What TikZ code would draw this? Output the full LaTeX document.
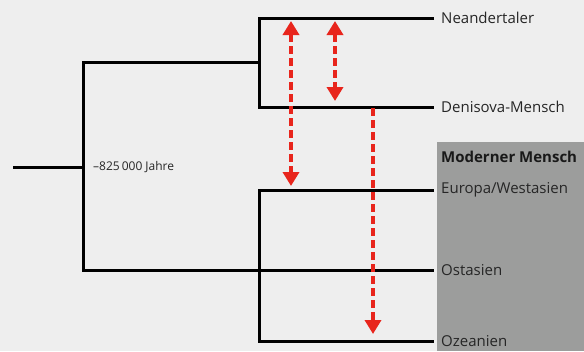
\documentclass[tikz,border=0pt]{standalone}
\usepackage{fontspec}
\setmainfont{Open Sans}
\usetikzlibrary{arrows.meta}
\definecolor{paper}{HTML}{EEEEEE}
\definecolor{modern}{HTML}{9C9D9C}
\definecolor{flow}{HTML}{E8251C}
\tikzset{
x=1pt, y=-1pt, % pixel units, y pointing down
>={Triangle[width=16pt,length=14pt]}, % arrow heads of the gene flow
branch/.style={line width=3pt}, % the tree lines
gene/.style={flow, line width=3.5pt, dash pattern=on 8pt off 4pt}, % gene flow
taxon/.style={anchor=west, inner xsep=7pt, text=black!85, font=\fontsize{15}{17}\selectfont},
}

\begin{document}
\begin{tikzpicture}
\fill[paper] (0,0) rectangle (584,351);
\fill[modern] (437,142) rectangle (584,351);
\useasboundingbox (0,0) rectangle (584,351);
% labels
\node[taxon] (nea) at (434,18) {Neandertaler};
\node[taxon] (den) at (434,107) {Denisova-Mensch};
\node[taxon, font=\fontsize{15}{17}\selectfont\bfseries, text=black!90] (mod) at (434,157) {Moderner Mensch};
\node[taxon] (eur) at (434,190) {Europa/Westasien};
\node[taxon] (ost) at (434,270) {Ostasien};
\node[taxon] (oze) at (434,341) {Ozeanien};
% branch points
\coordinate (start) at (13,167);
\coordinate (d0) at (83,167);
\coordinate (d1) at (259,62);
\coordinate (d2) at (259,265);
\node[anchor=west, inner sep=0pt, text=black!85, font=\fontsize{12}{14}\selectfont] (age) at (93,167) {–825\,000 Jahre};
\draw[branch] (nea.west) -| (d1) |- (den.west);
\draw[branch] (eur.west) -| (d2) |- (oze.west);
\draw[branch] (d1) -| (d0) |- (ost.west);
\draw[branch] (start) -- (d0);
% gene flow
\coordinate (f1) at (291,21);
\coordinate (f2) at (291,186);
\coordinate (f3) at (335,21);
\coordinate (f4) at (335,101);
\coordinate (f5) at (373,108);
\coordinate (f6) at (373,334);
\draw[gene, <->] (f1) -- (f2);
\draw[gene, <->] (f3) -- (f4);
\draw[gene, ->] (f5) -- (f6);
\end{tikzpicture}
\end{document}
